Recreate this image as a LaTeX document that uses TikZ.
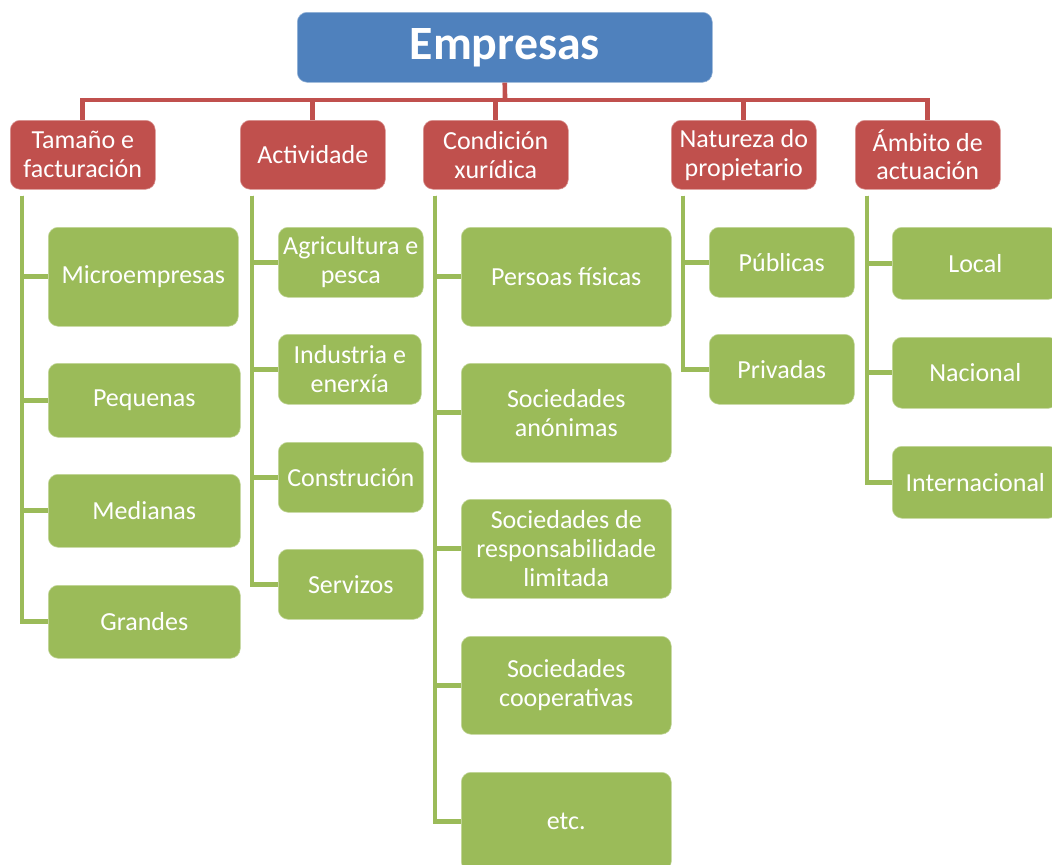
\documentclass[tikz,border=0pt]{standalone}
\usepackage{fontspec}
\setmainfont{Carlito}
\definecolor{empblue}{HTML}{4F81BD}
\definecolor{catred}{HTML}{C0504D}
\definecolor{itemgreen}{HTML}{9BBB59}
\newcommand{\px}{0.025cm}
\tikzset{
  rootbox/.style={fill=empblue, draw=empblue!60!white, rounded corners=7pt, text=white,
    font=\fontsize{34}{38}\selectfont\bfseries, inner sep=0pt, anchor=north west,
    minimum width=415*\px, minimum height=70*\px},
  catbox/.style={fill=catred, draw=catred!60!white, rounded corners=7pt, text=white,
    font=\fontsize{18.5}{20.5}\selectfont, align=center, inner sep=0pt, anchor=north west,
    minimum width=145*\px, minimum height=69*\px},
  itembox/.style 2 args={fill=itemgreen, draw=itemgreen!60!white, rounded corners=7pt, text=white,
    font=\fontsize{18.5}{20.5}\selectfont, align=center, inner sep=0pt, anchor=north west,
    minimum width=#1*\px, minimum height=#2*\px},
  redline/.style={draw=catred, line width=3.3pt},
  greenline/.style={draw=itemgreen, line width=3.3pt},
}
\begin{document}
\begin{tikzpicture}[x=0.025cm,y=-0.025cm]
  \useasboundingbox (0,0) rectangle (1052,864);
  \node[rootbox] (emp) at (297,12) {Empresas};
  % categories
  \node[catbox] (tam) at (10,120) {Tamaño e\\facturación};
  \node[catbox] (act) at (240,120) {Actividade};
  \node[catbox] (con) at (423,120) {Condición\\xurídica};
  \node[catbox] (nat) at (671,120) {Natureza do\\propietario};
  \node[catbox] (amb) at (855,120) {Ámbito de\\actuación};
  % items
  \node[itembox={190}{99}] (micro) at (48,227) {Microempresas};
  \node[itembox={192}{74}] (peq) at (48,363) {Pequenas};
  \node[itembox={192}{73}] (med) at (48,474) {Medianas};
  \node[itembox={192}{73}] (gra) at (48,585) {Grandes};
  \node[itembox={145}{70}] (agr) at (278,227) {Agricultura e\\pesca};
  \node[itembox={143}{70}] (ind) at (278,334) {Industria e\\enerxía};
  \node[itembox={145}{70}] (cons) at (278,442) {Construción};
  \node[itembox={145}{70}] (serv) at (278,549) {Servizos};
  \node[itembox={210}{99}] (fis) at (461,227) {Persoas físicas};
  \node[itembox={210}{99}] (anon) at (461,363) {Sociedades\\anónimas};
  \node[itembox={210}{99}] (srl) at (461,499) {Sociedades de\\responsabilidade\\limitada};
  \node[itembox={210}{98}] (coop) at (461,636) {Sociedades\\cooperativas};
  \node[itembox={210}{99}] (etc) at (461,772) {etc.};
  \node[itembox={145}{70}] (pub) at (709,227) {Públicas};
  \node[itembox={145}{70}] (priv) at (709,334) {Privadas};
  \node[itembox={166}{72}] (loc) at (892,227) {Local};
  \node[itembox={166}{71}] (nac) at (892,337) {Nacional};
  \node[itembox={166}{72}] (int) at (892,446) {Internacional};
  % red connectors
  \coordinate (bus) at (505,100);
  \draw[redline] (emp.south) -- (bus);
  \draw[redline] (tam.north) -- (tam.north |- bus) -- (amb.north |- bus) -- (amb.north);
  \foreach \c in {act,con,nat}
    \draw[redline] (\c.north) -- (\c.north |- bus);
  % green connectors
  \foreach \p/\kids in {tam/{micro,peq,med,gra}, act/{agr,ind,cons,serv},
      con/{fis,anon,srl,coop,etc}, nat/{pub,priv}, amb/{loc,nac,int}} {
    \coordinate (root) at ([shift={(12,6)}]\p.south west);
    \foreach \k in \kids
      \draw[greenline] (root) |- (\k.west);
  }
\end{tikzpicture}
\end{document}
